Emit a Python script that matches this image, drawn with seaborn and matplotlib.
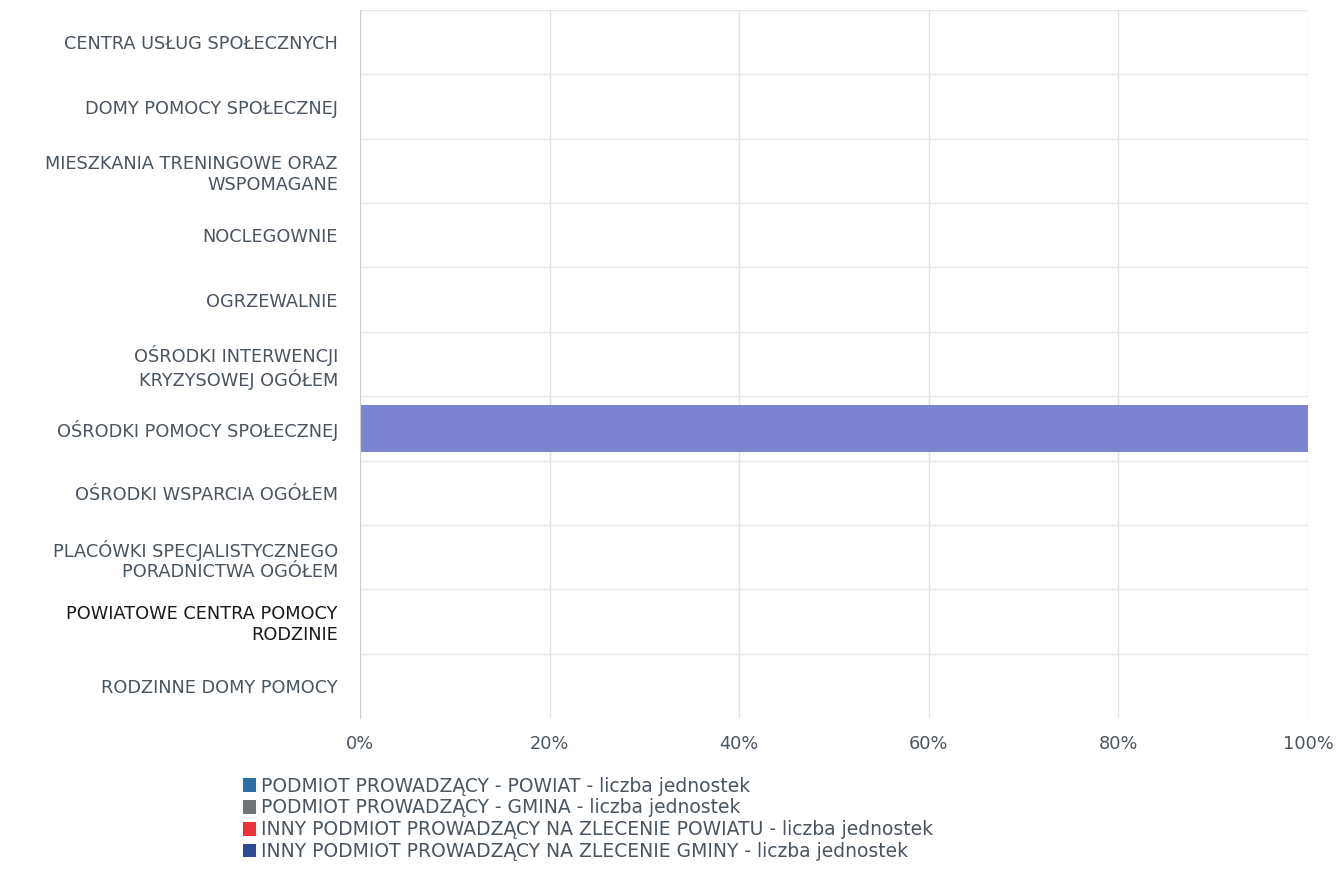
import numpy as np
import pandas as pd
import matplotlib
matplotlib.use("Agg")
import matplotlib.pyplot as plt
import matplotlib.ticker as mtick
from matplotlib.patches import Patch
import seaborn as sns

# Categories (rows) and the four series: number of units per operator type
categories = [
    "CENTRA USŁUG SPOŁECZNYCH",
    "DOMY POMOCY SPOŁECZNEJ",
    "MIESZKANIA TRENINGOWE ORAZ\nWSPOMAGANE",
    "NOCLEGOWNIE",
    "OGRZEWALNIE",
    "OŚRODKI INTERWENCJI\nKRYZYSOWEJ OGÓŁEM",
    "OŚRODKI POMOCY SPOŁECZNEJ",
    "OŚRODKI WSPARCIA OGÓŁEM",
    "PLACÓWKI SPECJALISTYCZNEGO\nPORADNICTWA OGÓŁEM",
    "POWIATOWE CENTRA POMOCY\nRODZINIE",
    "RODZINNE DOMY POMOCY",
]
series = [
    "PODMIOT PROWADZĄCY - POWIAT - liczba jednostek",
    "PODMIOT PROWADZĄCY - GMINA - liczba jednostek",
    "INNY PODMIOT PROWADZĄCY NA ZLECENIE POWIATU - liczba jednostek",
    "INNY PODMIOT PROWADZĄCY NA ZLECENIE GMINY - liczba jednostek",
]
powiat = [0, 0, 0, 0, 0, 0, 0, 0, 0, 0, 0]
gmina = [0, 0, 0, 0, 0, 0, 1, 0, 0, 0, 0]
inny_powiat = [0, 0, 0, 0, 0, 0, 0, 0, 0, 0, 0]
inny_gmina = [0, 0, 0, 0, 0, 0, 0, 0, 0, 0, 0]

legend_colors = ["#2b6ea6", "#707478", "#e8313b", "#2d4a94"]
bar_colors = ["#2b6ea6", "#7c84cf", "#e8313b", "#2d4a94"]

# ---------- percentages (100% stacked) ----------
counts = pd.DataFrame(
    np.array([powiat, gmina, inny_powiat, inny_gmina]).T,
    index=categories, columns=series, dtype=float,
)
totals = counts.sum(axis=1).replace(0, np.nan)
pct = counts.div(totals, axis=0).fillna(0) * 100
cum = pct.cumsum(axis=1)

plt.rcParams["font.family"] = ["DejaVu Sans"]

fig = plt.figure(figsize=(13.39, 8.72), dpi=100)
ax = fig.add_axes([0.2689, 0.1766, 0.7080, 0.8119])

# draw from the last cumulative series backwards so earlier ones sit on top
for i in range(len(series) - 1, -1, -1):
    d = pd.DataFrame({"category": categories, "value": cum[series[i]].values})
    sns.barplot(data=d, x="value", y="category", orient="h", color=bar_colors[i],
                width=0.73, linewidth=0, saturation=1, ax=ax)

ax.set_xlim(0, 100)
ax.set_ylim(len(categories) - 0.5, -0.5)
ax.xaxis.set_major_locator(mtick.MultipleLocator(20))
ax.xaxis.set_major_formatter(mtick.StrMethodFormatter("{x:.0f}%"))
ax.set_yticks(np.arange(len(categories)) - 0.5, minor=True)
ax.set_xlabel("")
ax.set_ylabel("")
ax.set_axisbelow(True)
ax.grid(axis="x", which="major", color="#e3e3e3", linewidth=1)
ax.grid(axis="y", which="minor", color="#e8e8e8", linewidth=1)
ax.grid(axis="y", which="major", visible=False)
for s in ["top", "right", "bottom"]:
    ax.spines[s].set_visible(False)
ax.spines["left"].set_color("#d0d0d0")
ax.tick_params(axis="x", length=0, pad=12, labelsize=12.8, labelcolor="#4a5560")
ax.tick_params(axis="y", which="both", length=0, pad=16, labelsize=12.8, labelcolor="#4a5560")
for lbl in ax.get_yticklabels():
    if lbl.get_text().startswith("POWIATOWE"):
        lbl.set_color("#1a1a1a")

handles = [Patch(facecolor=c, edgecolor="none") for c in legend_colors]
fig.legend(handles, series, loc="upper left", bbox_to_anchor=(0.176, 0.118),
           frameon=False, fontsize=13.5, handlelength=0.7, handleheight=0.75,
           handletextpad=0.25, labelspacing=0.15, borderaxespad=0,
           labelcolor="#4a5560")

fig.savefig("out.png", dpi=100)
